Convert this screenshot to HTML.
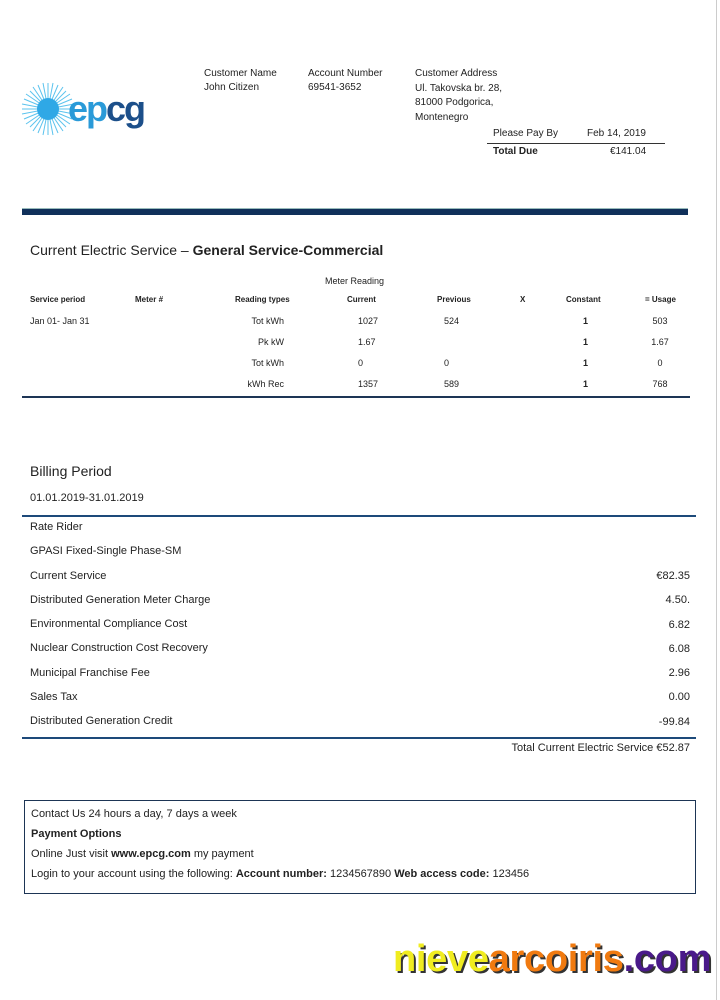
<!DOCTYPE html>
<html><head><meta charset="utf-8"><style>
body{margin:0;width:720px;height:1000px;background:#fff;position:relative;font-family:"Liberation Sans",sans-serif;color:#222;overflow:hidden}
.a{position:absolute;white-space:nowrap}
.s{font-size:10px}
.h{font-size:8px;font-weight:bold}
.r{font-size:9px}
.row{font-size:11px}
</style></head><body>
<div class="a" style="left:716px;top:0;width:1px;height:1000px;background:#ccc"></div>
<svg class="a" style="left:21px;top:82px" width="54" height="54">
<g stroke="#5bc3ee" stroke-width="1">
<line x1="27" y1="1" x2="27" y2="53"/><line x1="1" y1="27" x2="53" y2="27"/><line x1="9" y1="9" x2="45" y2="45"/><line x1="45" y1="9" x2="9" y2="45"/>
<line x1="17" y1="3" x2="37" y2="51"/><line x1="37" y1="3" x2="17" y2="51"/><line x1="3" y1="17" x2="51" y2="37"/><line x1="3" y1="37" x2="51" y2="17"/>
<line x1="22" y1="1" x2="32" y2="53"/><line x1="32" y1="1" x2="22" y2="53"/><line x1="1" y1="22" x2="53" y2="32"/><line x1="1" y1="32" x2="53" y2="22"/>
<line x1="12" y1="5" x2="42" y2="49"/><line x1="42" y1="5" x2="12" y2="49"/><line x1="5" y1="12" x2="49" y2="42"/><line x1="5" y1="42" x2="49" y2="12"/>
</g><circle cx="27" cy="27" r="11" fill="#2fa8e6"/></svg>
<div class="a" style="left:68px;top:88px;font-size:36px;font-weight:bold;letter-spacing:-2px"><span style="color:#2a9ad8">ep</span><span style="color:#1c4f8a">cg</span></div>
<div class="a s" style="left:204px;top:67px;line-height:14px">Customer Name<br>John Citizen</div>
<div class="a s" style="left:308px;top:67px;line-height:14px">Account Number<br>69541-3652</div>
<div class="a s" style="left:415px;top:67px;line-height:14.5px">Customer Address<br>Ul. Takovska br. 28,<br>81000 Podgorica,<br>Montenegro</div>
<div class="a s" style="left:493px;top:128px">Please Pay By</div>
<div class="a s" style="left:587px;top:128px">Feb 14, 2019</div>
<div class="a" style="left:487px;top:143px;width:178px;height:1px;background:#333"></div>
<div class="a s" style="left:493px;top:146px;font-weight:bold">Total Due</div>
<div class="a s" style="left:610px;top:146px">€141.04</div>
<div class="a" style="left:22px;top:208px;width:666px;height:6px;background:#10305a;border-top:1px solid #9bb"></div>
<div class="a" style="left:30px;top:242px;font-size:14px">Current Electric Service – <b>General Service-Commercial</b></div>
<div class="a r" style="left:325px;top:276px">Meter Reading</div>
<div class="a h" style="left:30px;top:295px">Service period</div>
<div class="a h" style="left:135px;top:295px">Meter #</div>
<div class="a h" style="left:235px;top:295px">Reading types</div>
<div class="a h" style="left:347px;top:295px">Current</div>
<div class="a h" style="left:437px;top:295px">Previous</div>
<div class="a h" style="left:520px;top:295px">X</div>
<div class="a h" style="left:566px;top:295px">Constant</div>
<div class="a h" style="left:645px;top:295px">= Usage</div>
<div class="a r" style="left:30px;top:311px;line-height:21px">Jan 01- Jan 31</div>
<div class="a r" style="left:244px;top:311px;line-height:21px;text-align:right;width:40px">Tot kWh<br>Pk kW<br>Tot kWh<br>kWh Rec</div>
<div class="a r" style="left:358px;top:311px;line-height:21px">1027<br>1.67<br>0<br>1357</div>
<div class="a r" style="left:444px;top:311px;line-height:21px">524<br>&nbsp;<br>0<br>589</div>
<div class="a r" style="left:583px;top:311px;line-height:21px;font-weight:bold">1<br>1<br>1<br>1</div>
<div class="a r" style="left:650px;top:311px;line-height:21px;text-align:center;width:20px">503<br>1.67<br>0<br>768</div>
<div class="a" style="left:22px;top:396px;width:668px;height:2px;background:#1d3555"></div>
<div class="a" style="left:30px;top:463px;font-size:14px">Billing Period</div>
<div class="a" style="left:30px;top:492px;font-size:11px">01.01.2019-31.01.2019</div>
<div class="a" style="left:22px;top:515px;width:674px;height:2px;background:#1d4a7a"></div>
<div class="a row" style="left:30px;top:515px;line-height:24.3px">Rate Rider<br>GPASI Fixed-Single Phase-SM<br>Current Service<br>Distributed Generation Meter Charge<br>Environmental Compliance Cost<br>Nuclear Construction Cost Recovery<br>Municipal Franchise Fee<br>Sales Tax<br>Distributed Generation Credit</div>
<div class="a row" style="right:30px;top:564px;line-height:24.3px;text-align:right">€82.35<br>4.50.<br>6.82<br>6.08<br>2.96<br>0.00<br>-99.84</div>
<div class="a" style="left:22px;top:737px;width:674px;height:2px;background:#1d4a7a"></div>
<div class="a row" style="right:30px;top:742px">Total Current Electric Service €52.87</div>
<div class="a" style="left:24px;top:800px;width:670px;height:92px;border:1px solid #1d3555"></div>
<div class="a row" style="left:31px;top:804px;line-height:20px">Contact Us 24 hours a day, 7 days a week<br><b>Payment Options</b><br>Online Just visit <b>www.epcg.com</b> my payment<br>Login to your account using the following: <b>Account number:</b> 1234567890 <b>Web access code:</b> 123456</div>
<div class="a" style="left:393px;top:938px;font-size:38px;font-weight:bold;letter-spacing:-0.3px;text-shadow:2px 2px 0 #333"><span style="color:#f0ec20">nieve</span><span style="color:#f07a10">arcoiris</span><span style="color:#4a1a8a">.com</span></div>
</body></html>
